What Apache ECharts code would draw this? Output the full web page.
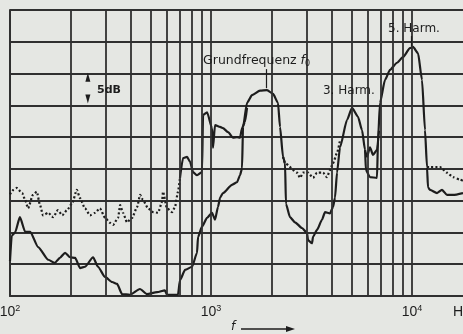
<!DOCTYPE html>
<html><head><meta charset="utf-8">
<script src="https://cdn.jsdelivr.net/npm/echarts@6/dist/echarts.min.js"></script>
<style>html,body{margin:0;padding:0;background:#e5e7e3}#c{width:463px;height:334px}</style>
</head><body><div id="c"></div>
<script>
// Frequencies in Hz, levels in dB (5 dB per grid division)
const lowerCurve = [
  [100,5.5],[102,9.5],[106,10.0],[112,12.4],[119,10.1],[126,10.1],[138,7.7],[155,5.7],[167,5.2],
  [177,6.0],[188,6.8],[199,6.1],[211,6.0],[223,4.4],[236,4.6],[259,6.1],[274,4.6],[297,3.0],
  [322,2.2],[341,1.9],[361,0.3],[395,0.2],[443,1.1],[480,0.3],[539,0.6],[590,0.9],[604,0.2],
  [685,0.2],[701,2.5],[743,4.1],[805,4.6],[852,6.8],[862,9.3],[902,10.9],[956,12.3],[1012,13.1],
  [1047,12.0],[1083,14.0],[1110,15.5],[1147,16.2],[1272,17.5],[1347,17.9],[1394,19.0],[1427,20.1],
  [1443,26.6],[1511,30.4],[1600,31.6],[1754,32.3],[1900,32.4],[2035,31.8],[2154,30.4],[2205,26.6],
  [2282,21.9],[2335,20.9],[2360,14.5],[2472,12.4],[2617,11.6],[2838,10.7],[3004,9.9],[3039,8.8],
  [3181,8.3],[3218,9.3],[3369,10.4],[3566,12.0],[3692,13.2],[3908,13.0],[4046,14.0],[4140,15.5],
  [4236,19.4],[4384,23.4],[4750,27.7],[5030,29.6],[5387,28.2],[5640,26.1],[5837,23.0],[5900,19.8],
  [6180,18.7],[6698,18.6],[6774,24.5],[6932,30.4],[7341,34.0],[7773,35.6],[8423,36.7],[9022,37.6],
  [9772,39.0],[10116,39.2],[10713,38.2],[11215,34.0],[11606,26.1],[11875,20.3],[12012,17.1],
  [12291,16.7],[13319,16.2],[14103,16.7],[14934,15.9],[15996,15.9],[17936,16.2]
];
const upperDotted = [
  [100,16.0],[104,16.7],[108,17.0],[115,16.2],[119,15.1],[123,13.8],[130,15.9],[136,16.4],[141,14.3],
  [146,12.7],[155,13.1],[164,12.4],[173,13.5],[182,12.7],[192,13.5],[204,14.6],[215,16.7],[223,15.4],
  [236,13.8],[250,12.7],[265,13.1],[280,13.8],[297,12.3],[315,11.5],[326,11.2],[345,12.3],[353,14.3],
  [365,13.1],[382,11.6],[405,12.3],[429,14.0],[444,15.9],[459,15.1],[486,13.8],[515,13.2],[545,13.1],
  [571,14.8],[577,16.4],[604,13.8],[640,13.2],[662,14.0],[685,16.4],[701,18.6],
  null,
  [2282,21.9],[2335,20.9],[2679,19.4],[2773,18.6],[2870,19.4],[3039,19.4],[3218,18.6],[3369,19.4],
  [3607,19.4],[3777,18.7],[3908,19.8],[4046,20.9],[4236,22.5],[4384,24.5],
  null,
  [11875,20.3],[12291,20.3],[13783,20.3],[14934,19.4],[15996,18.7],[17333,18.3],[17936,18.1]
];
const upperSolid = [
  [701,18.6],[726,21.7],[760,21.9],[787,21.1],[814,19.5],[852,19.0],[902,19.5],[913,28.5],[956,28.9],
  [1012,26.4],[1023,23.3],[1047,26.9],[1109,26.6],[1147,26.4],[1215,25.8],[1287,24.9],[1347,25.0],
  [1394,24.9],[1427,26.4],[1476,27.4],[1511,29.6],
  null,
  [5837,23.0],[5973,21.9],[6180,23.4],[6397,22.2],[6698,23.0],[6850,26.0]
];
const gridFreqs = [200,300,400,500,600,700,800,900,1000,2000,3000,4000,5000,6000,7000,8000,9000,10000];
const tickValues = [100, 1000, 10000];
const tickLabels = ['10{sup|2}', '10{sup|3}', '10{sup|4}'];

const ink = '#1d1d1d', gridInk = '#303030';
const font = 'Liberation Sans Narrow, Liberation Sans, sans-serif';
const chart = echarts.init(document.getElementById('c'));
const txt = (text, coord, size) => ({
  coord, symbol: 'circle', symbolSize: 0,
  label: { show: true, position: 'right', distance: 0, formatter: text, color: ink, fontSize: size,
           fontFamily: 'DejaVu Sans, sans-serif',
           rich: { i: { fontStyle: 'italic', fontSize: size, color: ink, fontFamily: 'DejaVu Sans, sans-serif' },
                   sub: { fontSize: 8, color: ink, padding: [7,0,0,0] } } }
});

chart.setOption({
  backgroundColor: '#e5e7e3',
  animation: false,
  grid: { left: 10, right: 0, top: 10, bottom: 38, containLabel: false, outerBoundsMode: 'none' },
  xAxis: {
    type: 'log', logBase: 10, min: 100, max: 17936,
    axisLine: { show: true, onZero: false, lineStyle: { color: gridInk, width: 2 } },
    axisTick: { show: false }, splitLine: { show: false },
    axisLabel: {
      margin: 8, color: ink, fontSize: 14, fontFamily: font, hideOverlap: false,
      formatter: v => { const i = tickValues.findIndex(t => Math.abs(t - v) / t < 1e-6); return i < 0 ? '' : tickLabels[i]; },
      rich: { sup: { fontSize: 9, color: ink, fontFamily: font, padding: [0,0,7,0] } }
    }
  },
  yAxis: {
    type: 'value', min: 0, max: 45, interval: 5,
    axisLine: { show: true, lineStyle: { color: gridInk, width: 2 } },
    axisTick: { show: false }, axisLabel: { show: false },
    splitLine: { lineStyle: { color: gridInk, width: 1.8 } }
  },
  series: [
    { type: 'line', data: [], z: 1, silent: true,
      markLine: { silent: true, symbol: 'none', label: { show: false },
        lineStyle: { color: gridInk, width: 1.8, type: 'solid' },
        data: gridFreqs.map(f => ({ xAxis: f })) } },
    { type: 'line', data: upperDotted, showSymbol: false, connectNulls: false, z: 3,
      smooth: 0.2, smoothMonotone: 'x',
      lineStyle: { color: ink, width: 2.2, type: [2, 2.2] } },
    { type: 'line', data: upperSolid, showSymbol: false, connectNulls: false, z: 3,
      smooth: 0.2, smoothMonotone: 'x',
      lineStyle: { color: ink, width: 2.2 } },
    { type: 'line', data: lowerCurve, showSymbol: false, z: 4,
      smooth: 0.2, smoothMonotone: 'x',
      lineStyle: { color: ink, width: 2.2 },
      markLine: { silent: true, symbol: 'none', label: { show: false },
        lineStyle: { color: ink, width: 1.2, type: 'solid' },
        data: [
          [{ coord: [1877, 35.7] }, { coord: [1877, 32.7] }],
          [{ coord: [9886, 40.9] }, { coord: [9886, 39.3] }]
        ] },
      markPoint: { silent: true, data: [
        txt('Grundfrequenz {i|f}{sub|0}', [913, 37.0], 12.5),
        txt('3. Harm.', [3607, 32.3], 12),
        txt('5. Harm.', [7598, 42.0], 12),
        { coord: [271, 32.4], symbol: 'circle', symbolSize: 0,
          label: { show: true, position: 'right', distance: 0, formatter: '5dB', color: ink, fontSize: 11, fontWeight: 'bold', fontFamily: 'DejaVu Sans, sans-serif' } },
        { coord: [244, 34.4], symbol: 'triangle', symbolSize: [5, 9], itemStyle: { color: ink }, label: { show: false } },
        { coord: [244, 31.0], symbol: 'triangle', symbolRotate: 180, symbolSize: [5, 9], itemStyle: { color: ink }, label: { show: false } }
      ] } }
  ],
  graphic: [
    { type: 'text', left: 453, top: 305, style: { text: 'Hz', fill: ink, font: '14px ' + font } },
    { type: 'text', left: 231, top: 321, style: { text: 'f', fill: ink, font: 'italic 12px DejaVu Sans, sans-serif' } },
    { type: 'line', shape: { x1: 241, y1: 329, x2: 288, y2: 329 }, style: { stroke: ink, lineWidth: 1.5 } },
    { type: 'polygon', shape: { points: [[286, 326], [295, 329], [286, 332]] }, style: { fill: ink } }
  ]
});
</script></body></html>
